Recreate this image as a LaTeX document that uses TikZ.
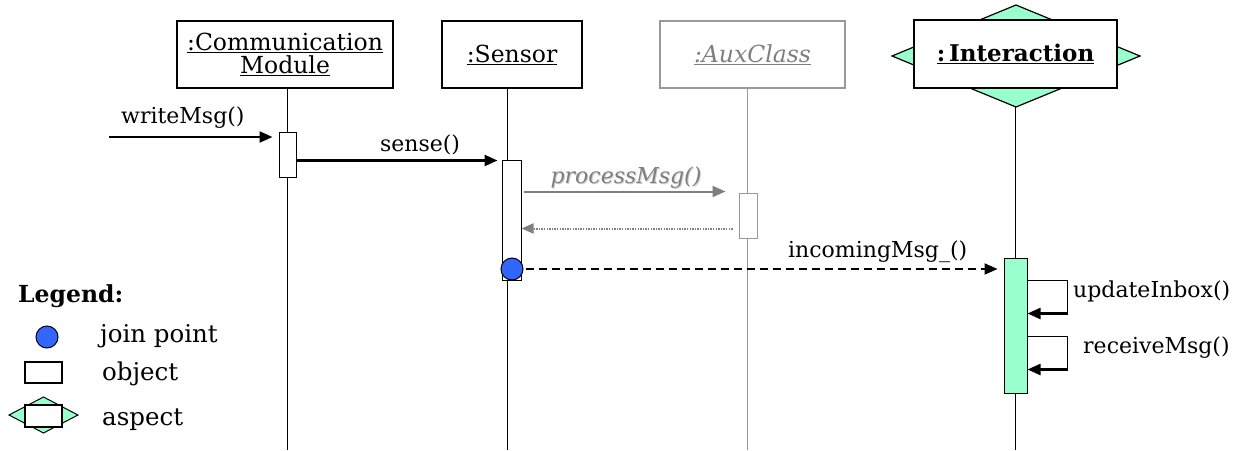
\documentclass[tikz,border=0pt]{standalone}
\usepackage{fontspec}
\setmainfont{DejaVu Serif}
\usetikzlibrary{arrows.meta}
\definecolor{mint}{HTML}{99FFCC}
\definecolor{jpblue}{HTML}{3366FF}
\definecolor{auxtext}{HTML}{7F7F7F}
\definecolor{auxline}{HTML}{999999}
\definecolor{shade}{HTML}{CFCFCF}

\tikzset{
  lbl/.style={font=\fontsize{22}{24}\selectfont, inner sep=0pt},
  leglbl/.style={font=\fontsize{24.5}{26}\selectfont, inner sep=0pt},
  headbox/.style={draw=black, line width=1.2pt, fill=white, inner sep=0pt, align=center,
    font=\fontsize{23.5}{23.5}\selectfont},
  auxbox/.style={headbox, draw=auxline, text=auxtext},
  actbox/.style={draw=black, line width=1pt, fill=white, inner sep=0pt},
  life/.style={line width=1pt, draw=black},
  auxlife/.style={line width=1pt, draw=auxline},
  msg/.style={line width=2.4pt, -{Triangle[length=13pt,width=11pt]}},
  auxmsg/.style={line width=2pt, draw=auxtext, -{Triangle[length=13pt,width=11pt]}},
  retmsg/.style={line width=2pt, draw=auxtext, dash pattern=on 1.4pt off 1.2pt,
    -{Triangle[length=12pt,width=10pt]}},
  dashmsg/.style={line width=2pt, dash pattern=on 8pt off 5pt, -{Triangle[length=13pt,width=11pt]}},
  loopline/.style={line width=1pt},
  joinpt/.style={circle, draw=black, line width=1pt, fill=jpblue, minimum size=22pt, inner sep=0pt},
}

\begin{document}
\begin{tikzpicture}[x=1pt,y=-1pt]
\useasboundingbox (0,0) rectangle (1245,450);

% lifeline positions
\coordinate (lCM) at (287,88);
\coordinate (lS) at (507,88);
\coordinate (lA) at (747,88);
\coordinate (lI) at (1015,107);
\coordinate (bottom) at (0,450);

\draw[life] (lCM) -- (lCM |- bottom);
\draw[life] (lS) -- (lS |- bottom);
\draw[auxlife] (lA) -- (lA |- bottom);
\draw[life] (lI) -- (lI |- bottom);

% object and aspect headers
\node[headbox, minimum width=216pt, minimum height=67pt] (cm) at (285,54.5)
  {\underline{:Communication}\\\underline{Module}};
\node[headbox, minimum width=140pt, minimum height=67pt] (sensor) at (512,54.5)
  {\underline{:Sensor}};
\node[auxbox, minimum width=185pt, minimum height=67pt] (aux) at (752.5,54.5)
  {\underline{\itshape :AuxClass}};
\draw[line width=1.2pt, fill=mint] (892,56) -- (1016,5) -- (1140,56) -- (1016,107) -- cycle;
\node[headbox, minimum width=203pt, minimum height=68pt, font=\fontsize{23}{23}\selectfont] (inter) at (1015.5,54)
  {\bfseries\underline{:\,Interaction}};

% activation bars
\node[actbox, minimum width=17pt, minimum height=45pt] (actCM) at (287.5,154.5) {};
\node[actbox, minimum width=19pt, minimum height=120pt] (actS) at (511.5,220) {};
\node[actbox, draw=auxline, minimum width=18pt, minimum height=45pt] (actA) at (748,215.5) {};
\node[actbox, fill=mint, minimum width=23pt, minimum height=135pt] (actI) at (1015.5,325.5) {};
\node[joinpt] (jp) at (512,269) {};

% messages
\coordinate (wStart) at (109,137);
\draw[msg, shorten >=6pt] (wStart) -- (wStart -| actCM.west);
\node[lbl, anchor=base west] (wLbl) at (121,123) {writeMsg()};

\draw[msg, shorten >=4pt] ([yshift=-1pt]actCM.east |- actS.north) -- ([yshift=-1pt]actS.north west);
\node[lbl, anchor=base] (sLbl) at (420,151) {sense()};

\draw[auxmsg, shorten <=2pt, shorten >=13pt] ([yshift=1pt]actS.east |- actA.north) -- ([yshift=1pt]actA.north west);
\node[lbl, anchor=base, text=shade] at (627,184) {\itshape processMsg()};
\node[lbl, anchor=base, text=auxtext] (pLbl) at (626,183) {\itshape processMsg()};

\draw[retmsg, shorten <=6pt] ([yshift=10pt]actA.south west) -- ([yshift=10pt]actA.south west -| actS.east);

\draw[dashmsg, shorten <=2pt, shorten >=6pt] (jp.east) -- (jp.east -| actI.west);
\node[lbl, anchor=base west] (iLbl) at (788,257) {incomingMsg\_()};

% self calls on the aspect
\coordinate (u1) at ([yshift=-23pt]actI.north east);
\coordinate (u2) at ([yshift=-56pt]actI.north east);
\draw[loopline] (u1) -- ++(40,0) coordinate (u1r) -- (u1r |- u2);
\draw[msg] (u1r |- u2) -- (u2);
\node[lbl, anchor=base west] (uLbl) at (1073,297) {updateInbox()};

\coordinate (r1) at ([yshift=-79pt]actI.north east);
\coordinate (r2) at ([yshift=-112pt]actI.north east);
\draw[loopline] (r1) -- ++(40,0) coordinate (r1r) -- (r1r |- r2);
\draw[msg] (r1r |- r2) -- (r2);
\node[lbl, anchor=base west] (rLbl) at (1083,353) {receiveMsg()};

% legend
\node[leglbl, anchor=base west, font=\fontsize{23.5}{26}\selectfont] (legTitle) at (18,302) {\bfseries Legend:};
\node[joinpt] (legJp) at (47,337) {};
\node[leglbl, anchor=base west] (legJpTxt) at (100,342) {join point};
\node[actbox, line width=1.2pt, minimum width=37pt, minimum height=21pt] (legObj) at (43.5,372.5) {};
\node[leglbl, anchor=base west] (legObjTxt) at (102,380) {object};
\draw[line width=1pt, fill=mint] (9,415) -- (43.5,397) -- (78,415) -- (43.5,433) -- cycle;
\node[actbox, line width=1.2pt, minimum width=37pt, minimum height=22pt] (legAsp) at (43.5,416) {};
\node[leglbl, anchor=base west] (legAspTxt) at (102,425) {aspect};
\end{tikzpicture}
\end{document}
